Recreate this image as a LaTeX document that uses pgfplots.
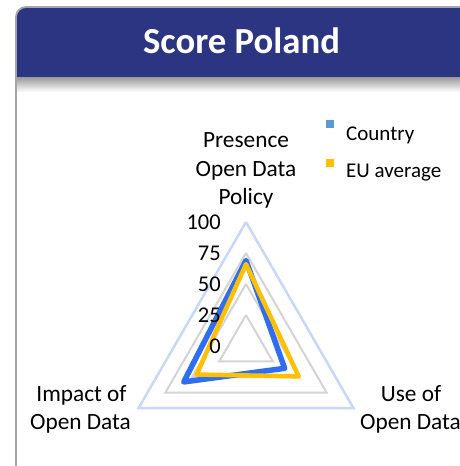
\documentclass[border=0pt]{standalone}
\usepackage{fontspec}
\setmainfont{Carlito}
\usepackage{pgfplots}
\pgfplotsset{compat=1.18}
\usepgfplotslibrary{polar}
\definecolor{banner}{HTML}{2C3582}
\definecolor{cblue}{HTML}{2F6EF0}
\definecolor{cyel}{HTML}{FFC000}
\definecolor{legblue}{HTML}{5B9BD5}
\definecolor{ringgray}{HTML}{D4D4D4}
\definecolor{ringblue}{HTML}{C9D8F7}
\definecolor{border}{HTML}{A6A6A6}
\tikzset{ticklab/.style={anchor=east, inner sep=0, xshift=-25pt, font=\fontsize{22.5}{27}\selectfont}}
\begin{document}
\begin{tikzpicture}[x=1pt,y=1pt]
\useasboundingbox (0,0) rectangle (459,466);
% panel
\fill[white] (16,-20) rectangle (520,459);
\shade[top color=black!40, bottom color=white] (17,374) rectangle (520,389);
\fill[banner] (16,389) [rounded corners=10pt] -- (16,459) -- (520,459) [sharp corners] -- (520,389) -- cycle;
\draw[border, line width=1.8pt] (16,-20) [rounded corners=10pt] -- (16,459) -- (520,459);
\node[anchor=base, inner sep=0, text=white, font=\bfseries\fontsize{36.7}{44}\selectfont] at (241.5,412) {Score Poland};
% radar
\begin{polaraxis}[at={(246pt,120pt)}, anchor=center, width=248pt, height=248pt, scale only axis,
  hide axis, ymin=0, ymax=100, clip=false]
\addplot[ringgray, line width=2pt] coordinates {(90,25) (210,25) (330,25) (90,25)};
\addplot[ringgray, line width=2pt] coordinates {(90,50) (210,50) (330,50) (90,50)};
\addplot[ringgray, line width=2pt] coordinates {(90,75) (210,75) (330,75) (90,75)};
\addplot[ringblue, line width=2.5pt] coordinates {(90,100) (210,100) (330,100) (90,100)};
% Country
\addplot[cblue, line width=5.5pt, line join=round] coordinates {(90,69) (330,36) (210,58) (90,69) (330,36)};
% EU average
\addplot[cyel, line width=4.5pt, line join=round] coordinates {(90,66) (330,49) (210,46) (90,66) (330,49)};
\node[ticklab] at (axis cs:90,0) {0};
\node[ticklab] at (axis cs:90,25) {25};
\node[ticklab] at (axis cs:90,50) {50};
\node[ticklab] at (axis cs:90,75) {75};
\node[ticklab] at (axis cs:90,100) {100};
\end{polaraxis}
% axis labels
\begin{scope}[every node/.style={anchor=base, inner sep=0, font=\fontsize{23.3}{28}\selectfont}]
\node at (246,318) {Presence};
\node at (246,289) {Open Data};
\node at (246,261) {Policy};
\node at (81.5,64) {Impact of};
\node at (80.5,36) {Open Data};
\node at (411,64) {Use of};
\node at (410.5,36) {Open Data};
\end{scope}
% legend
\fill[legblue] (326,338) rectangle (334,346);
\node[anchor=base west, inner sep=0, font=\fontsize{21}{25}\selectfont] at (346,325) {Country};
\fill[cyel] (326,299) rectangle (334,307);
\node[anchor=base west, inner sep=0, font=\fontsize{21}{25}\selectfont] at (346,288) {EU average};
\end{tikzpicture}
\end{document}
